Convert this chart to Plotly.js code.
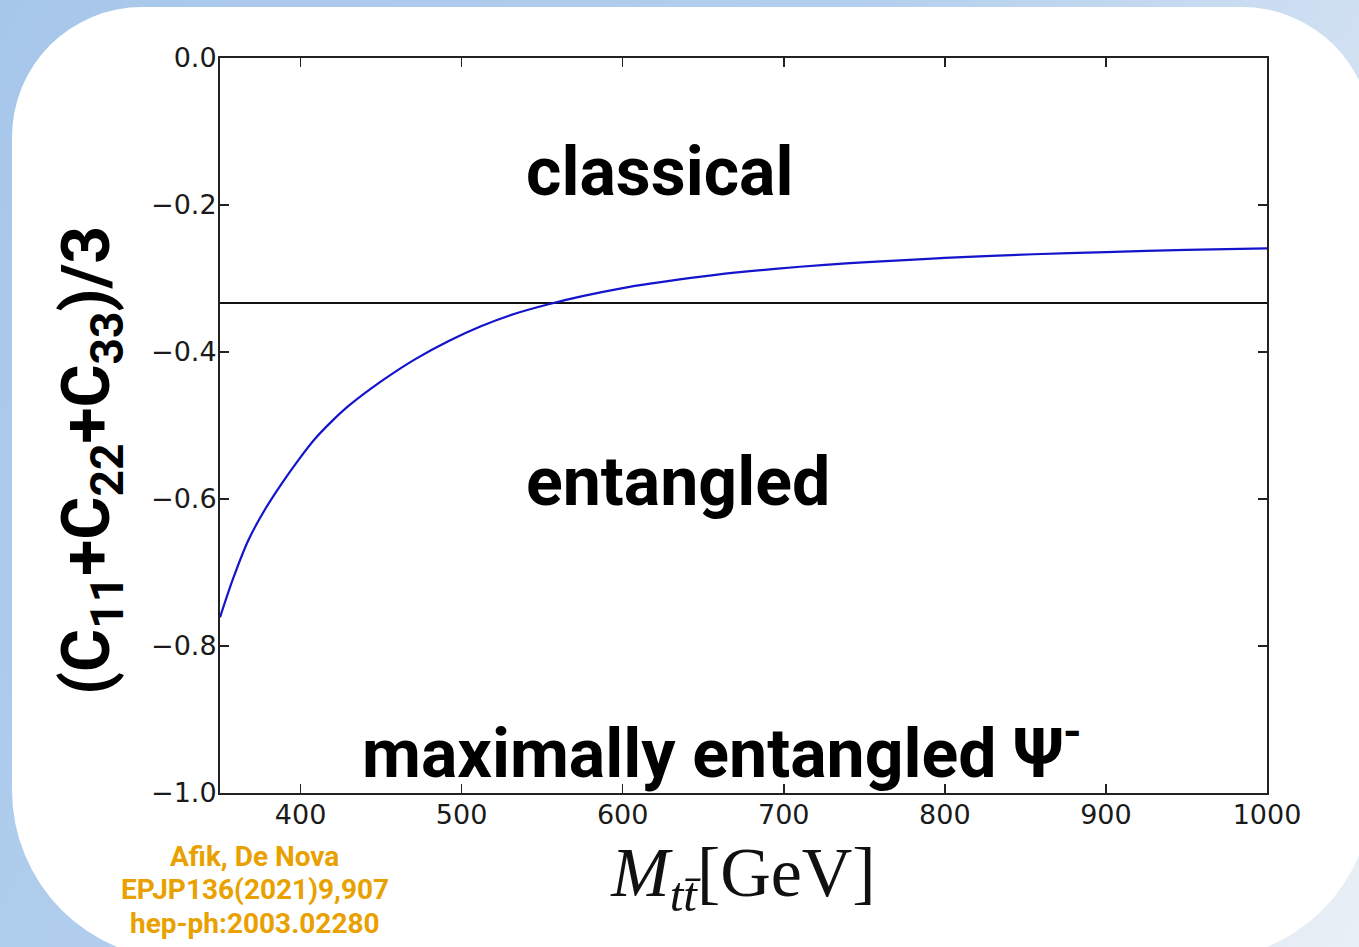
<!DOCTYPE html>
<html>
<head>
<meta charset="utf-8">
<script src="https://cdn.plot.ly/plotly-3.0.1.min.js"></script>
<style>
  html, body { margin: 0; padding: 0; width: 1359px; height: 947px; overflow: hidden; }
  body { background: linear-gradient(120deg, #a7c7ea 0%, #b3cfee 45%, #d3e2f2 75%, #e9eff6 100%); position: relative; }
  #panel { position: absolute; left: 12px; top: 7px; width: 1360px; height: 953px; background: #ffffff;
           border-radius: 130px 130px 170px 170px; }
  #chart { position: absolute; left: 0; top: 0; width: 1359px; height: 947px; }
</style>
</head>
<body>
<div id="panel"></div>
<div id="chart"></div>
<script>
// ---- data ----
const massGeV = [350, 358, 367.6, 378, 388.3, 399, 409, 420, 430, 450, 471, 492, 512, 533, 554, 575, 600, 617, 650, 679, 710, 741, 775, 800, 855, 900, 950, 1000];
const traceC  = [-0.761, -0.709, -0.656, -0.614, -0.579, -0.546, -0.518, -0.493, -0.473, -0.440, -0.410, -0.385, -0.365, -0.348, -0.335, -0.324, -0.313, -0.307, -0.297, -0.290, -0.284, -0.279, -0.275, -0.272, -0.267, -0.264, -0.261, -0.259];
const massLimits = [350, 1000];
const entanglementBound = [-1/3, -1/3];
const xTicks = [400, 500, 600, 700, 800, 900, 1000];
const yTicks = [0.0, -0.2, -0.4, -0.6, -0.8, -1.0];
const regionLabels = ['classical', 'entangled', 'maximally entangled \u03A8<sup>-</sup>'];
const regionLabelX = [538.7, 538.7, 436.9];
const regionLabelY = [-0.155, -0.577, -0.940];
const citationLines = ['Afik, De Nova', 'EPJP136(2021)9,907', 'hep-ph:2003.02280'];
const yTitle = '(C<sub>11</sub>+C<sub>22</sub>+C<sub>33</sub>)/3';
const xTitle = '<i>M</i><sub><i>tt\u0304</i></sub>[GeV]';

// ---- layout helpers (pixels -> paper fractions) ----
const W = 1359, H = 947;
const px = v => v / W;
const py = v => 1 - v / H;

const traces = [
  { x: massLimits, y: entanglementBound, mode: 'lines', line: { color: '#111111', width: 2 }, hoverinfo: 'skip', showlegend: false },
  { x: massGeV, y: traceC, mode: 'lines', line: { color: '#1414cc', width: 2.2, shape: 'spline', smoothing: 0.8 }, showlegend: false }
];

const tickFont = { family: 'DejaVu Sans', size: 27, color: '#1a1a1a' };
const labelFont = { family: 'Roboto', size: 68, color: '#000000', weight: 700 };

const annotations = regionLabels.map((t, i) => ({
  x: regionLabelX[i], y: regionLabelY[i], xref: 'x', yref: 'y',
  text: t, showarrow: false, xanchor: 'left', yanchor: 'middle',
  font: labelFont
}));
const citeY = [856, 889.5, 923];
citationLines.forEach((t, i) => annotations.push({
  x: px(255), y: py(citeY[i]), xref: 'paper', yref: 'paper',
  text: t, showarrow: false, xanchor: 'center', yanchor: 'middle',
  borderpad: 0,
  font: { family: 'Roboto', size: 28, color: '#e8a100', weight: 700 }
}));
// y-axis title (placed as rotated annotation to match the reference offset)
annotations.push({
  x: px(91), y: py(461), xref: 'paper', yref: 'paper', textangle: -90,
  text: yTitle, showarrow: false, xanchor: 'center', yanchor: 'middle',
  font: { family: 'Roboto', size: 66, color: '#000', weight: 700 }
});

const layout = {
  width: W, height: H,
  margin: { l: 0, r: 0, t: 0, b: 0 },
  paper_bgcolor: 'rgba(0,0,0,0)',
  plot_bgcolor: '#ffffff',
  showlegend: false,
  xaxis: {
    domain: [px(220), px(1267)],
    range: massLimits, tickvals: xTicks, ticktext: xTicks.map(String),
    ticks: 'inside', ticklen: 9, tickwidth: 1.5, tickcolor: '#222',
    showline: true, linecolor: '#222', linewidth: 2, mirror: 'ticks',
    showgrid: false, zeroline: false, tickfont: tickFont, ticklabelstandoff: -3,
    automargin: false,
    title: { text: xTitle, standoff: 18,
             font: { family: 'Liberation Serif', size: 70, color: '#111' } }
  },
  yaxis: {
    domain: [py(793), py(58)],
    range: [-1.0, 0.0], tickvals: yTicks, ticktext: yTicks.map(v => (v < 0 ? '\u2212' : '') + Math.abs(v).toFixed(1)),
    ticks: 'inside', ticklen: 9, tickwidth: 1.5, tickcolor: '#222',
    showline: true, linecolor: '#222', linewidth: 2, mirror: 'ticks',
    showgrid: false, zeroline: false, tickfont: tickFont, ticklabelstandoff: -4,
    automargin: false
  },
  annotations: annotations
};

Plotly.newPlot('chart', traces, layout, { displayModeBar: false, staticPlot: true });
</script>
</body>
</html>
